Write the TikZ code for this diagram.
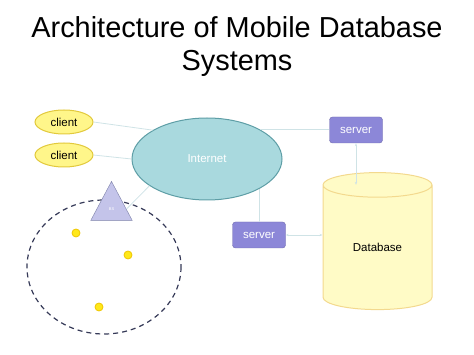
\documentclass[tikz,border=0pt]{standalone}
\usepackage{fontspec}
\setmainfont{Liberation Sans}
\usetikzlibrary{arrows.meta,positioning,shapes.geometric}

\definecolor{clientfill}{HTML}{FFF68A}
\definecolor{clientline}{HTML}{E2C93C}
\definecolor{netfill}{HTML}{A9D9DE}
\definecolor{netline}{HTML}{5E9EA6}
\definecolor{srvfill}{HTML}{8C87D8}
\definecolor{dbfill}{HTML}{FFFBC6}
\definecolor{dbline}{HTML}{F3D98E}
\definecolor{bsfill}{HTML}{C4C4EA}
\definecolor{bsline}{HTML}{7C80A8}
\definecolor{linkcol}{HTML}{CFE3E6}
\definecolor{cellcol}{HTML}{363A58}
\definecolor{dotfill}{HTML}{FFE81A}
\definecolor{dotline}{HTML}{EFC600}

\begin{document}
\begin{tikzpicture}[
  x=1pt, y=-1pt,
  client/.style={draw=clientline, fill=clientfill, ellipse, line width=1pt, minimum width=58pt, minimum height=24pt, inner sep=0pt, font=\fontsize{11.5}{13}\selectfont},
  cloud/.style={draw=netline, fill=netfill, ellipse, line width=1pt, minimum width=150pt, minimum height=82pt, text=white, font=\fontsize{11.5}{13}\selectfont},
  srv/.style={fill=srvfill, draw=srvfill!80!black, rounded corners=3pt, minimum width=53pt, minimum height=26pt, inner sep=0pt, text=white, font=\fontsize{11.5}{13}\selectfont},
  store/.style={draw=dbline, fill=dbfill, line width=1pt, cylinder, shape border rotate=90, aspect=0.5, minimum width=109pt, minimum height=137pt, inner sep=0pt, font=\fontsize{11.5}{13}\selectfont},
  tower/.style={draw=bsline, fill=bsfill, isosceles triangle, shape border rotate=90, isosceles triangle apex angle=56, minimum height=39pt, inner sep=0pt, text=white, font=\fontsize{4}{5}\selectfont},
  mobile/.style={circle, draw=dotline, fill=dotfill, line width=0.8pt, minimum size=8pt, inner sep=0pt},
  link/.style={draw=linkcol, line width=0.8pt},
  arrow/.style={link, {Stealth[length=3pt]}-{Stealth[length=3pt]}}
]
\useasboundingbox (0,0) rectangle (474,355);

\node[align=center, font=\fontsize{28.9}{33}\selectfont] (title) at (237,47) {Architecture of Mobile Database\\Systems};

\node[client] (c1) at (64,122) {client};
\node[client] (c2) at (64,155) {client};
\node[cloud] (net) at (207,159) {Internet};
\node[srv] (s1) at (356,130) {server};
\node[srv] (s2) at (259,235) {server};
\node[store] (db) at (377.5,247.5) {\raisebox{-4pt}[0pt][0pt]{Database}};

% wireless cell
\draw[cellcol, line width=1.2pt, dash pattern=on 5pt off 4pt] (104,267) ellipse [x radius=77, y radius=67];
\node[tower, anchor=apex] (bs) at (111.5,181) {BS};
\node[mobile] (m1) at (76,233) {};
\node[mobile] (m2) at (128,255) {};
\node[mobile] (m3) at (99,307) {};

\draw[link] (c1.east) -- (net.152);
\draw[link] (c2.east) -- (net.west);
\draw[link] (bs.east) -- (net.205);
\draw[link] (net.29) -- (net.29 -| s1.west);
\draw[link] (net.330) -- (net.330 -| s2.north) -- (s2.north);
\draw[arrow] (s1.south) -- (s1.south |- db.before top);
\draw[arrow] (s2.east) -- (s2.east -| db.west);
\end{tikzpicture}
\end{document}
